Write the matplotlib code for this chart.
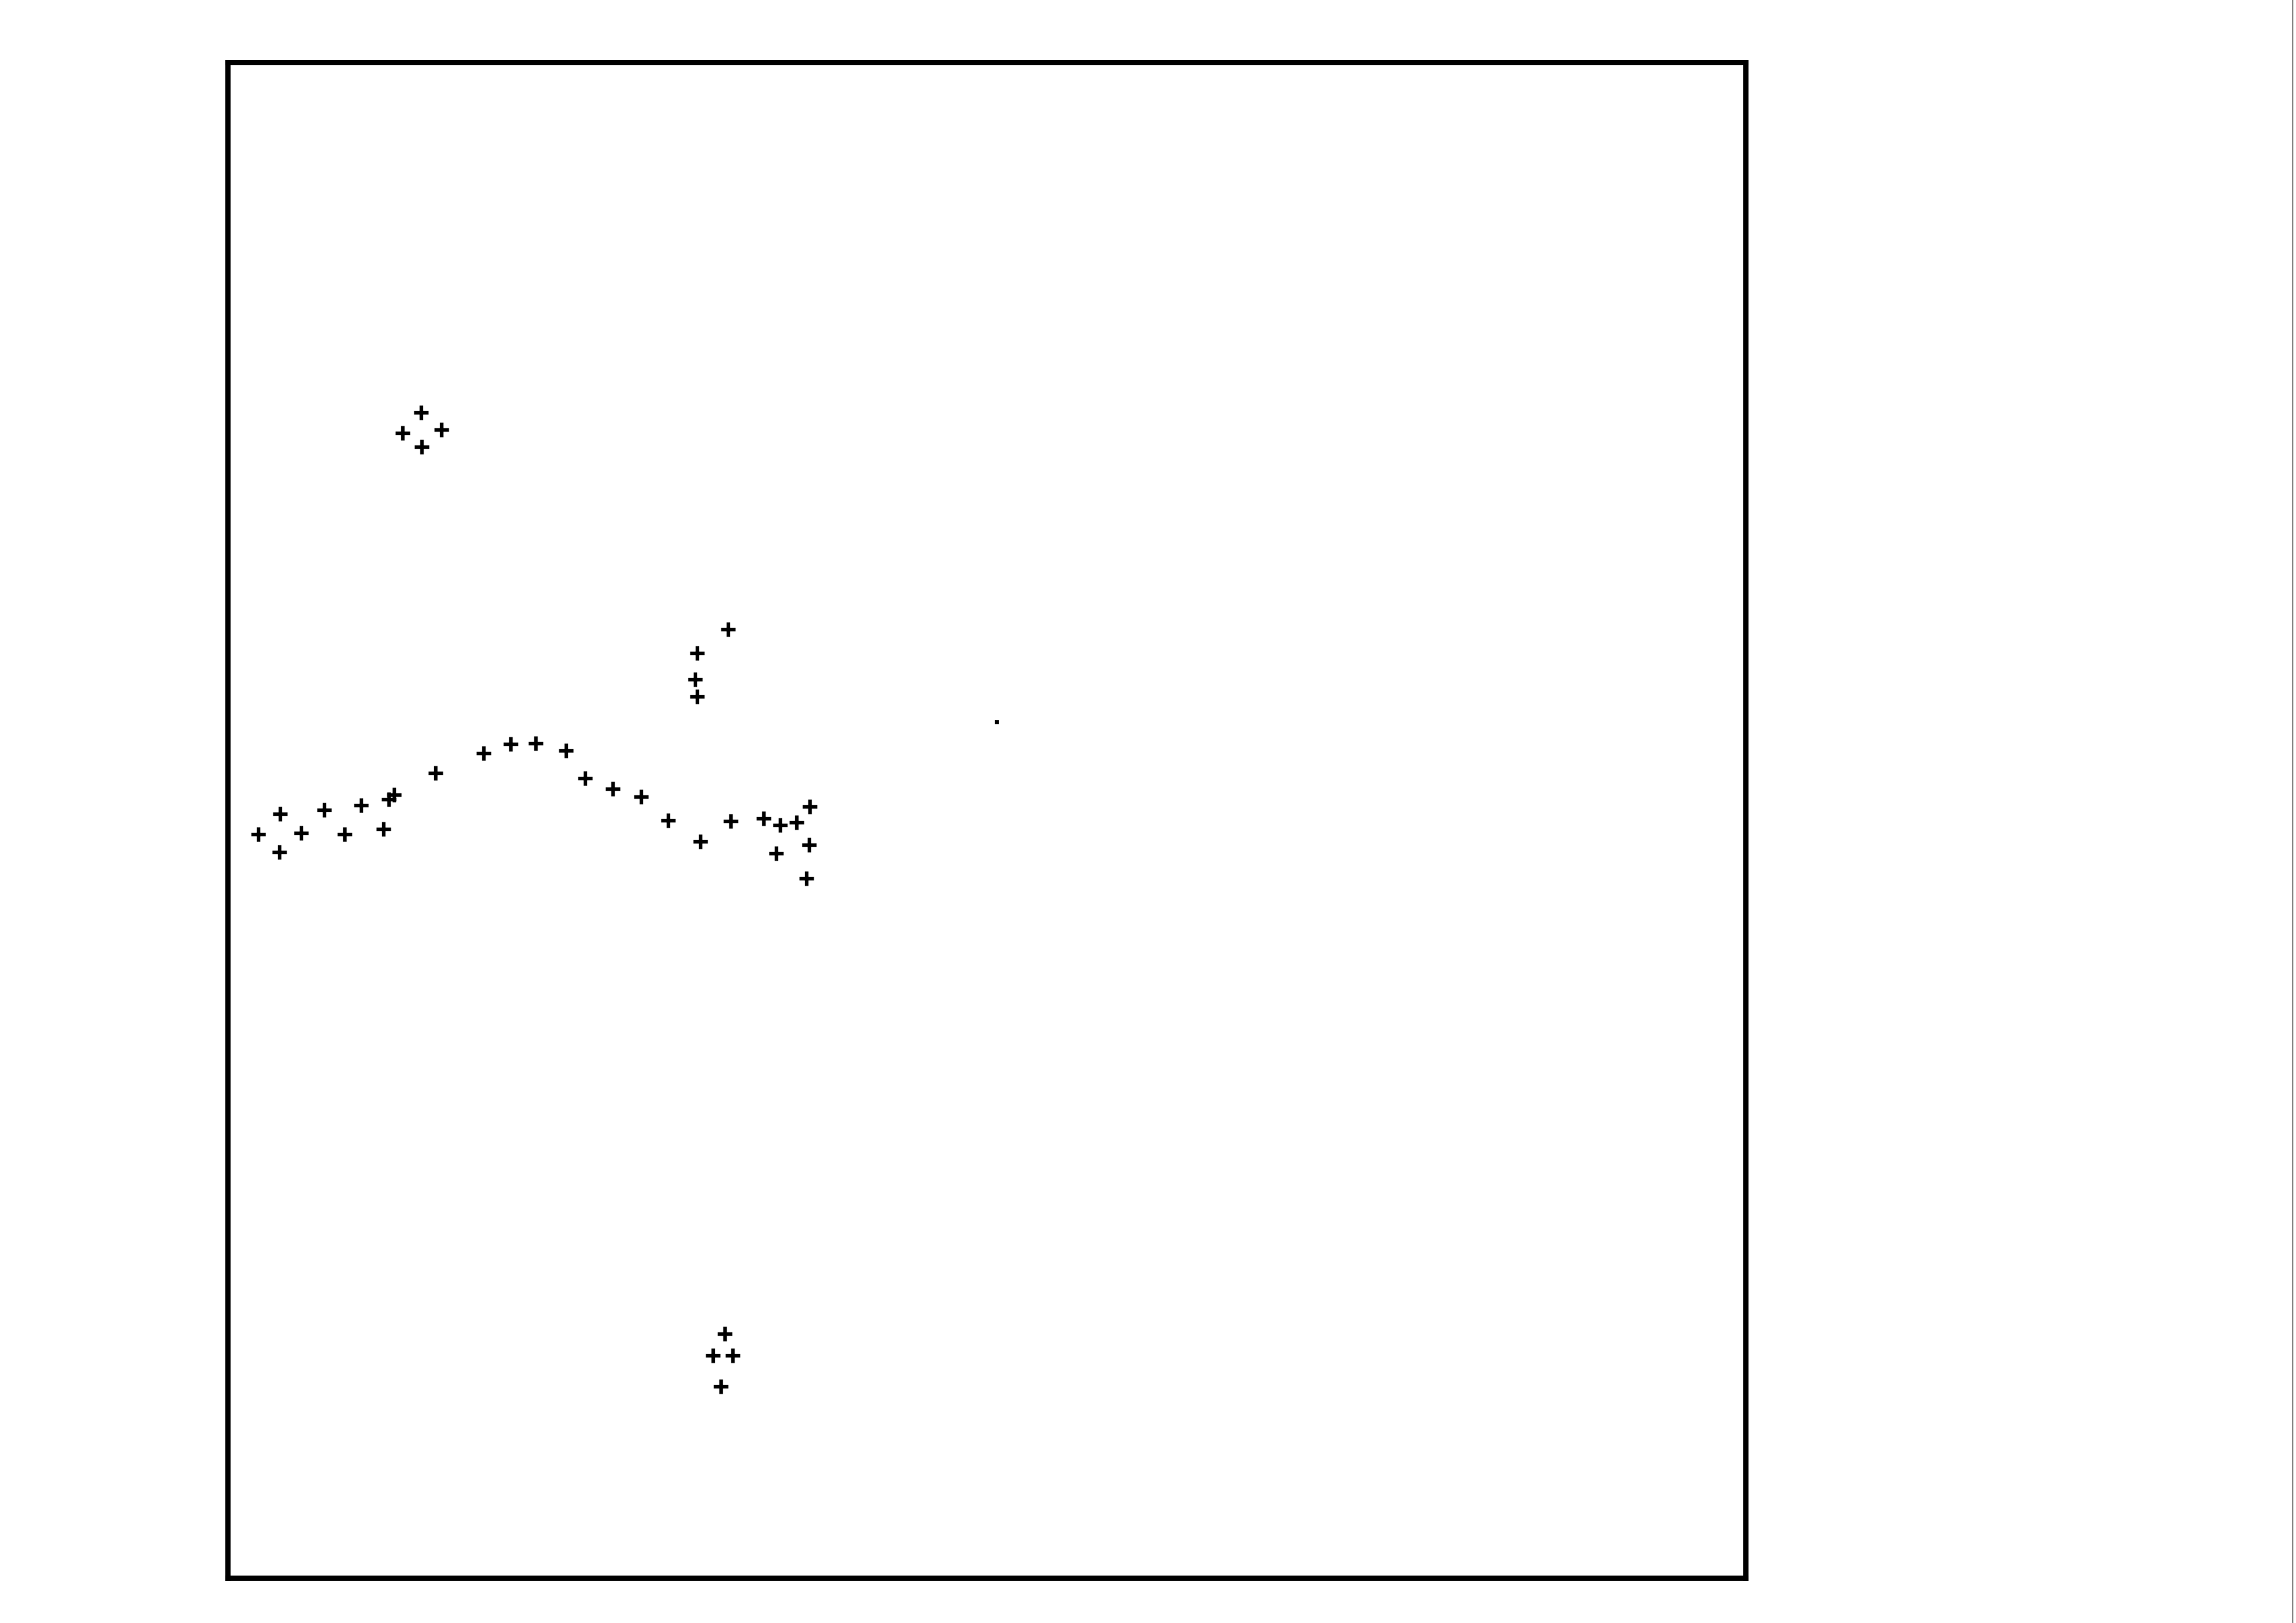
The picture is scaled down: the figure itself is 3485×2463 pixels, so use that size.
import matplotlib
matplotlib.use("Agg")
import matplotlib.pyplot as plt
from matplotlib.lines import Line2D

# Main curve of points
curve_x = [2.00, 3.43, 4.82, 3.39, 6.34, 7.68, 8.77, 10.24, 10.60, 10.95, 13.67,
           16.84, 18.62, 20.27, 22.27, 23.52, 25.35, 27.21, 28.99, 31.12, 33.12,
           35.29, 36.37, 37.46, 38.32, 36.11, 38.28, 38.11]
curve_y = [49.09, 50.43, 49.17, 47.91, 50.70, 49.09, 51.00, 49.43, 51.40, 51.70, 53.13,
           54.43, 55.04, 55.09, 54.61, 52.78, 52.09, 51.57, 50.00, 48.61, 49.96,
           50.13, 49.70, 49.87, 50.91, 47.83, 48.39, 46.17]

# Upper-left cluster
ul_x = [12.72, 11.50, 14.06, 12.76]
ul_y = [76.91, 75.57, 75.78, 74.65]

# Middle cluster
mid_x = [32.94, 30.90, 30.77, 30.90]
mid_y = [62.61, 61.04, 59.30, 58.17]

# Bottom cluster
bot_x = [32.73, 31.94, 33.25, 32.47]
bot_y = [16.13, 14.70, 14.70, 12.65]

# Isolated tiny dot
dot_x = [50.65]
dot_y = [56.48]

fig = plt.figure(figsize=(3486 / 300, 2463 / 300), dpi=300)
ax = fig.add_axes([346 / 3486, 1 - 2395 / 2463, 2304 / 3486, 2300 / 2463])

for xs, ys in [(curve_x, curve_y), (ul_x, ul_y), (mid_x, mid_y), (bot_x, bot_y)]:
    ax.plot(xs, ys, linestyle="none", marker="+", markersize=5.5,
            markeredgewidth=1.3, color="black")
ax.plot(dot_x, dot_y, linestyle="none", marker="s", markersize=0.6,
        color="black")

ax.set_xlim(0, 100)
ax.set_ylim(0, 100)
ax.set_xticks([])
ax.set_yticks([])
for s in ax.spines.values():
    s.set_linewidth(1.9)
    s.set_color("black")

# scan edge line at right border of page
fig.add_artist(Line2D([3480 / 3486, 3480 / 3486], [0, 1], transform=fig.transFigure,
                      color="#888888", linewidth=0.5))

fig.savefig("out.png", dpi=300, facecolor="white")
